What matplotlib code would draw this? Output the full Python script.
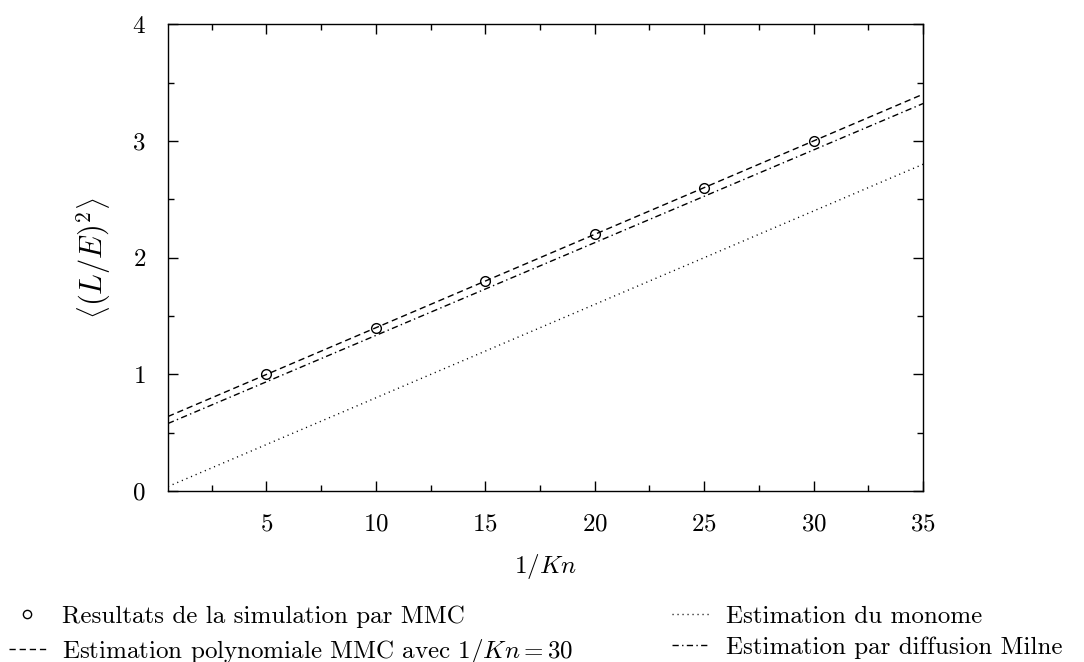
import matplotlib
matplotlib.use("Agg")
import matplotlib.pyplot as plt
from matplotlib.ticker import MultipleLocator

plt.rcParams['font.family'] = 'serif'
plt.rcParams['font.serif'] = ['cmr10', 'DejaVu Serif']
plt.rcParams['mathtext.fontset'] = 'cm'
plt.rcParams['axes.formatter.use_mathtext'] = True
plt.rcParams['font.size'] = 18

# simulation MMC
inv_kn = [5, 10, 15, 20, 25, 30]
mmc = [1.0, 1.4, 1.8, 2.2, 2.6, 3.0]

# estimations (end points of straight lines)
x_line = [0.5, 35]
poly_y = [0.64, 3.40]
monome_y = [0.04, 2.80]
milne_y = [0.58, 3.32]

fig = plt.figure(figsize=(10.84, 6.62), dpi=100)
ax = fig.add_axes([0.155, 0.258, 0.6965, 0.7055])

pts, = ax.plot(inv_kn, mmc, 'o', mfc='none', mec='black', ms=7, mew=1.0,
               label='Resultats de la simulation par MMC')
l1, = ax.plot(x_line, poly_y, color='black', lw=1.0, dashes=(4.5, 2.8),
              label=r'Estimation polynomiale MMC avec $1/Kn = 30$')
l2, = ax.plot(x_line, monome_y, color='black', lw=1.0, dashes=(0.8, 2.8),
              label='Estimation du monome')
l3, = ax.plot(x_line, milne_y, color='black', lw=1.0, dashes=(4.5, 2.4, 1, 2.4),
              label='Estimation par diffusion Milne')

ax.set_xlim(0.5, 35)
ax.set_ylim(0, 4)
ax.xaxis.set_major_locator(MultipleLocator(5))
ax.xaxis.set_minor_locator(MultipleLocator(2.5))
ax.yaxis.set_major_locator(MultipleLocator(1))
ax.yaxis.set_minor_locator(MultipleLocator(0.5))
ax.tick_params(which='both', direction='in', top=True, right=True, width=1.0)
ax.tick_params(axis='x', which='major', length=7, pad=16)
ax.tick_params(axis='y', which='major', length=7, pad=16)
ax.tick_params(which='minor', length=4)
for s in ax.spines.values():
    s.set_linewidth(1.0)

ax.set_xlabel(r'$1/Kn$', labelpad=12)
ax.set_ylabel(r'$\left\langle\left(L/E\right)^{2}\right\rangle$', labelpad=14,
              fontsize=22)

leg_kw = dict(loc='upper left', frameon=False, handlelength=1.5,
              handletextpad=0.65, labelspacing=0.36, borderaxespad=0,
              borderpad=0, fontsize=18, markerscale=0.85)
leg1 = fig.legend(handles=[pts, l1], bbox_to_anchor=(0.008, 0.086), **leg_kw)
leg2 = fig.legend(handles=[l2, l3], bbox_to_anchor=(0.62, 0.086), **leg_kw)

fig.savefig('out.png', dpi=100)
